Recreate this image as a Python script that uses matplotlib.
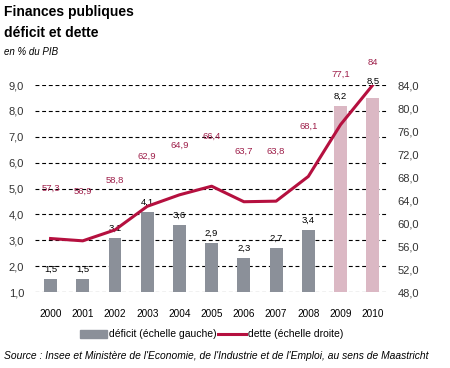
import matplotlib
matplotlib.use("Agg")
import matplotlib.pyplot as plt
from matplotlib.patches import Rectangle
from matplotlib.lines import Line2D
from matplotlib import font_manager

years = ["2000", "2001", "2002", "2003", "2004", "2005", "2006", "2007", "2008", "2009", "2010"]
deficit = [1.5, 1.5, 3.1, 4.1, 3.6, 2.9, 2.3, 2.7, 3.4, 8.2, 8.5]
deficit_labels = ["1,5", "1,5", "3,1", "4,1", "3,6", "2,9", "2,3", "2,7", "3,4", "8,2", "8,5"]
dette = [57.3, 56.9, 58.8, 62.9, 64.9, 66.4, 63.7, 63.8, 68.1, 77.1, 84.0]
dette_labels = ["57,3", "56,9", "58,8", "62,9", "64,9", "66,4", "63,7", "63,8", "68,1", "77,1", "84"]
forecast = [False] * 9 + [True, True]
left_ticks = [1, 2, 3, 4, 5, 6, 7, 8, 9]
right_ticks = [48, 52, 56, 60, 64, 68, 72, 76, 80, 84]

names = {f.name for f in font_manager.fontManager.ttflist}
base = "Liberation Sans" if "Liberation Sans" in names else "DejaVu Sans"
narrow = "Liberation Sans Narrow" if "Liberation Sans Narrow" in names else base
plt.rcParams["font.family"] = [base, "DejaVu Sans"]

GRAY = "#8b9099"
PINK = "#dbb8c4"
RED = "#b5103f"
LBL_RED = "#9e1f4a"
TXT = "#333333"

fig = plt.figure(figsize=(4.5, 3.68), dpi=100)
ax = fig.add_axes([0.078, 0.2065, 0.784, 0.5625])
x = list(range(len(years)))
colors = [PINK if f else GRAY for f in forecast]
ax.bar(x, [d - 1 for d in deficit], bottom=1, width=0.4, color=colors, zorder=2)
ax.set_xlim(-0.48, 10.47)
ax.set_ylim(1, 9)
ax.set_yticks(left_ticks)
ax.set_yticklabels([f"{t:.1f}".replace(".", ",") for t in left_ticks], fontsize=8, color=TXT)
ax.set_xticks(x)
ax.set_xticklabels(years, fontsize=7.2, color="black")
ax.tick_params(axis="y", length=0, pad=8)
ax.tick_params(axis="x", length=0, pad=12)
for s in ax.spines.values():
    s.set_visible(False)
for t in left_ticks:
    ax.axhline(t, color="black", lw=0.8, ls=(0, (3.5, 2.5)), zorder=1)
for i, (xi, d, lab) in enumerate(zip(x, deficit, deficit_labels)):
    off = 12 if i == len(x) - 1 else 7
    ax.annotate(lab, (xi, d), xytext=(0, off), textcoords="offset points",
                ha="center", va="center", fontsize=6.8, color="black", annotation_clip=False)

ax2 = ax.twinx()
ax2.set_ylim(48, 84)
ax2.set_yticks(right_ticks)
ax2.set_yticklabels([f"{t:.1f}".replace(".", ",") for t in right_ticks], fontsize=8, color=TXT)
ax2.tick_params(length=0, pad=7)
for s in ax2.spines.values():
    s.set_visible(False)
ax2.plot(x, dette, color=RED, lw=2.2, zorder=3)
for i, (xi, d, lab) in enumerate(zip(x, dette, dette_labels)):
    off = 16 if i == len(x) - 1 else 36
    ax2.annotate(lab, (xi, d), xytext=(0, off), textcoords="offset points",
                 ha="center", va="center", fontsize=6.8, color=LBL_RED, annotation_clip=False)

fig.text(0.01, 0.967, "Finances publiques", fontsize=10, fontweight="bold", family=narrow, va="center")
fig.text(0.01, 0.91, "déficit et dette", fontsize=10, fontweight="bold", family=narrow, va="center")
fig.text(0.01, 0.858, "en % du PIB", fontsize=7, style="italic", va="center")

# legend
ly = 1 - 334 / 368
fig.patches.append(Rectangle((80 / 450, ly - 0.012), 27 / 450, 0.024, transform=fig.transFigure,
                             color=GRAY, figure=fig))
fig.text(109 / 450, ly, "déficit (échelle gauche)", fontsize=7.5, va="center")
fig.lines.append(Line2D([218 / 450, 246 / 450], [ly, ly], transform=fig.transFigure, color=RED, lw=2.2))
fig.text(248 / 450, ly, "dette (échelle droite)", fontsize=7.5, va="center")

fig.text(4 / 450, 1 - 356 / 368,
         "Source : Insee et Ministère de l'Economie, de l'Industrie et de l'Emploi, au sens de Maastricht",
         fontsize=7.4, style="italic", va="center")

fig.savefig("out.png", dpi=100)
